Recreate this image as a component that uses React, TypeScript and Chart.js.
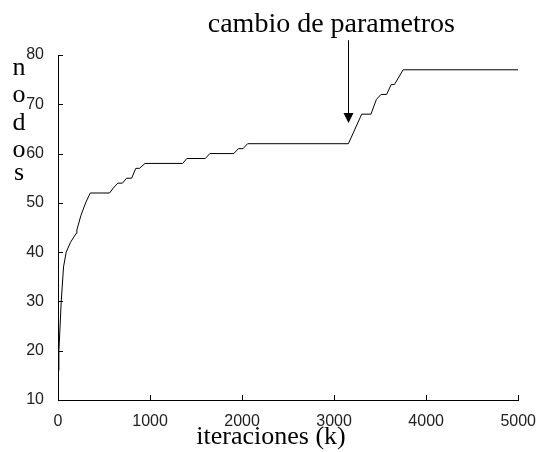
import React, { useEffect, useRef } from "react";
import { Chart, registerables } from "chart.js";

Chart.register(...registerables);

// iterations (k)
const iterations = [
  0, 10, 35, 60, 89, 136, 197, 205, 250, 300, 350, 560, 600, 650, 700, 745, 800,
  845, 885, 945, 1355, 1400, 1600, 1650, 1910, 1960, 2010, 2060, 3155, 3300,
  3400, 3460, 3510, 3570, 3620, 3655, 3750, 5000,
];
// number of nodes
const nodes = [
  16, 20, 30, 37, 40, 42, 43.8, 44.5, 47.5, 50, 52, 52, 53, 54, 54, 55, 55, 57,
  57, 58, 58, 59, 59, 60, 60, 61, 61, 62, 62, 68, 68, 71, 72, 72, 74, 74, 77, 77,
];

const xTicks = [0, 1000, 2000, 3000, 4000, 5000];
const yTicks = [10, 20, 30, 40, 50, 60, 70, 80];

const yLabelLetters = ["n", "o", "d", "o", "s"];
const yLabelBaselines = [75, 102, 130, 157, 180];
const xTitle = "iteraciones (k)";
const annotationText = "cambio de parametros";
// arrow in data coordinates
const arrowX = 3150;
const arrowTipY = 66.2;
const arrowTailY = 83;
const annotationCenterX = 2970;

export default function App() {
  const ref = useRef<HTMLCanvasElement>(null);

  useEffect(() => {
    if (!ref.current) return;
    const overlay = {
      id: "overlay",
      afterDraw(chart: any) {
        const { ctx, chartArea } = chart;
        const xs = chart.scales.x;
        const ys = chart.scales.y;
        ctx.save();
        // inward ticks
        ctx.strokeStyle = "#000";
        ctx.lineWidth = 1;
        ctx.beginPath();
        xTicks.forEach((v) => {
          const px = Math.round(xs.getPixelForValue(v)) + 0.5;
          ctx.moveTo(px, chartArea.bottom);
          ctx.lineTo(px, chartArea.bottom - 5);
        });
        yTicks.forEach((v) => {
          const py = Math.round(ys.getPixelForValue(v)) + 0.5;
          ctx.moveTo(chartArea.left, py);
          ctx.lineTo(chartArea.left + 5, py);
        });
        ctx.stroke();

        // y label stacked letters
        ctx.fillStyle = "#000";
        ctx.font = "26px 'Liberation Serif'";
        ctx.textAlign = "center";
        ctx.textBaseline = "alphabetic";
        yLabelLetters.forEach((l, i) => {
          ctx.fillText(l, 19, yLabelBaselines[i]);
        });

        // x title
        ctx.fillText(xTitle, 271, 444);

        // annotation text
        ctx.font = "28px 'Liberation Serif'";
        ctx.fillText(annotationText, xs.getPixelForValue(annotationCenterX), 32);

        // arrow
        const ax = Math.round(xs.getPixelForValue(arrowX)) + 0.5;
        const tipY = ys.getPixelForValue(arrowTipY);
        const tailY = ys.getPixelForValue(arrowTailY);
        ctx.beginPath();
        ctx.moveTo(ax, tailY);
        ctx.lineTo(ax, tipY - 9);
        ctx.stroke();
        ctx.beginPath();
        ctx.moveTo(ax - 5, tipY - 10);
        ctx.lineTo(ax + 5, tipY - 10);
        ctx.lineTo(ax, tipY);
        ctx.closePath();
        ctx.fill();
        ctx.restore();
      },
    };

    const tickFont = { family: "'Liberation Sans', Arial, sans-serif", size: 16 };

    const chart = new Chart(ref.current, {
      type: "line",
      data: {
        datasets: [
          {
            data: iterations.map((x, i) => ({ x, y: nodes[i] })),
            borderColor: "#000",
            borderWidth: 1,
            pointRadius: 0,
            fill: false,
            tension: 0,
          },
        ],
      },
      options: {
        animation: false,
        responsive: false,
        plugins: { legend: { display: false }, tooltip: { enabled: false } },
        layout: { padding: { top: 55, right: 21, left: 0, bottom: 0 } },
        scales: {
          x: {
            type: "linear",
            min: 0,
            max: 5000,
            afterBuildTicks: (s: any) => {
              s.ticks = xTicks.map((v) => ({ value: v }));
            },
            grid: { display: false },
            border: { display: true, color: "#000", width: 1 },
            ticks: {
              font: tickFont,
              color: "#222",
              padding: 4,
              maxRotation: 0,
              autoSkip: false,
              callback: (v: any) => String(v),
            },
            afterFit: (s: any) => {
              s.height = 52;
            },
          },
          y: {
            type: "linear",
            min: 10,
            max: 80,
            afterBuildTicks: (s: any) => {
              s.ticks = yTicks.map((v) => ({ value: v }));
            },
            grid: { display: false },
            border: { display: true, color: "#000", width: 1 },
            ticks: {
              font: tickFont,
              color: "#222",
              padding: 6,
              autoSkip: false,
              callback: (v: any) => String(v),
            },
            afterFit: (s: any) => {
              s.width = 58;
            },
          },
        },
      },
      plugins: [overlay],
    } as any);
    return () => chart.destroy();
  }, []);

  return (
    <div style={{ position: "fixed", left: 0, top: 0, width: 540, height: 452, background: "#fff" }}>
      <canvas ref={ref} width={540} height={452} style={{ display: "block" }} />
    </div>
  );
}
